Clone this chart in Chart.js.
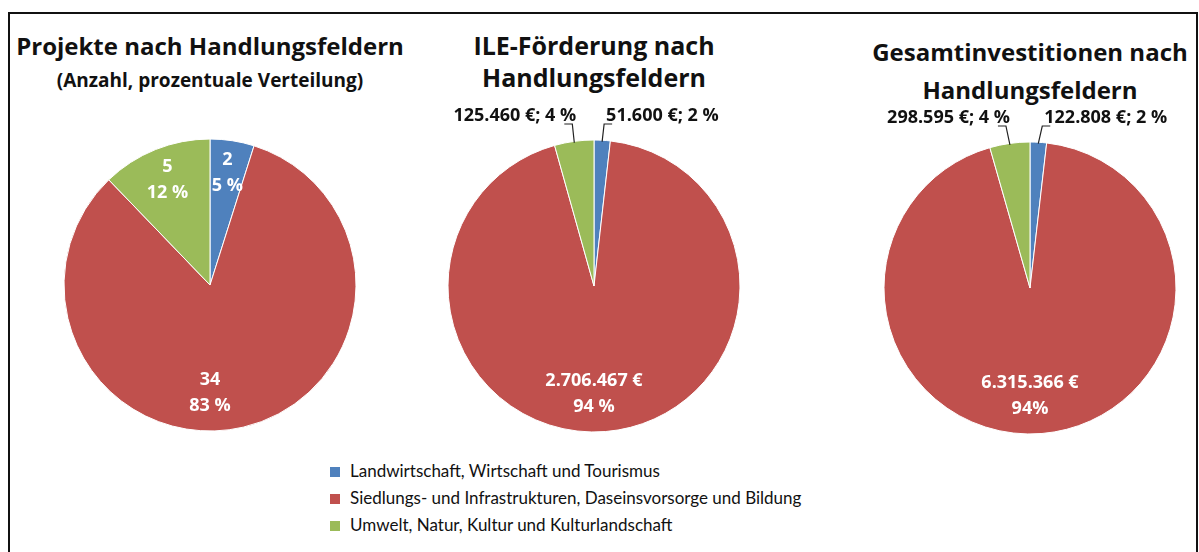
<!DOCTYPE html>
<html lang="de">
<head>
  <meta charset="UTF-8" />
  <title>Handlungsfelder</title>
  <script src="https://cdn.jsdelivr.net/npm/chart.js"></script>
  <style>
    body {
      margin: 0;
      width: 1199px;
      height: 552px;
      overflow: hidden;
      background: #fff;
      font-family: Lato, "Open Sans", sans-serif;
      color: #111;
      position: relative;
    }
    .frame {
      position: absolute;
      left: 8px;
      top: 12px;
      width: 1186px;
      height: 600px;
      border: 2px solid #111;
    }
    .title {
      position: absolute;
      font-family: "Open Sans", sans-serif;
      font-weight: bold;
      text-align: center;
      font-size: 24px;
      line-height: 32px;
      white-space: nowrap;
    }
    .sub {
      font-size: 19px;
      line-height: 28px;
    }
    canvas {
      position: absolute;
    }
    .legend {
      position: absolute;
      left: 330px;
      top: 457px;
      font-size: 17px;
      line-height: 27px;
    }
    .legend span.box {
      display: inline-block;
      width: 10px;
      height: 10px;
      margin-right: 10px;
    }
  </style>
</head>
<body>
  <div class="frame"></div>

  <div class="title" style="left:10px; width:400px; top:30px;">Projekte nach Handlungsfeldern<br><span class="sub">(Anzahl, prozentuale Verteilung)</span></div>
  <div class="title" style="left:394px; width:400px; top:29px; font-size:25px;">ILE-Förderung nach<br>Handlungsfeldern</div>
  <div class="title" style="left:830px; width:400px; top:33px; line-height:38px;">Gesamtinvestitionen nach<br>Handlungsfeldern</div>

  <canvas id="pie1" width="400" height="340" style="left:10px; top:100px;"></canvas>
  <canvas id="pie2" width="390" height="340" style="left:400px; top:100px;"></canvas>
  <canvas id="pie3" width="379" height="340" style="left:820px; top:100px;"></canvas>

  <div class="legend" id="legend"></div>

  <script>
    const categories = [
      'Landwirtschaft, Wirtschaft und Tourismus',
      'Siedlungs- und Infrastrukturen, Daseinsvorsorge und Bildung',
      'Umwelt, Natur, Kultur und Kulturlandschaft'
    ];
    const colors = ['#4f81bd', '#c0504d', '#9bbb59'];

    const projekteValues = [2, 34, 5];
    const projekteLabels = [['2', '5 %'], ['34', '83 %'], ['5', '12 %']];

    const foerderValues = [51600, 2706467, 125460];
    const foerderLabels = [['51.600 €; 2 %'], ['2.706.467 €', '94 %'], ['125.460 €; 4 %']];

    const investValues = [122808, 6315366, 298595];
    const investLabels = [['122.808 €; 2 %'], ['6.315.366 €', '94%'], ['298.595 €; 4 %']];

    // legend
    const legendEl = document.getElementById('legend');
    categories.forEach((c, i) => {
      legendEl.innerHTML += `<div><span class="box" style="background:${colors[i]}"></span>${c}</div>`;
    });

    // draws the slice labels: 'in' = inside, 'bottom' = below centre, 'out' = outside with leader line
    const sliceLabels = {
      id: 'sliceLabels',
      afterDatasetsDraw(chart, args, opts) {
        const ctx = chart.ctx;
        const arcs = chart.getDatasetMeta(0).data;
        ctx.save();
        ctx.font = 'bold 18px "Open Sans", sans-serif';
        ctx.textBaseline = 'middle';
        arcs.forEach((arc, i) => {
          const lines = opts.texts[i];
          const mode = opts.modes[i];
          const r = arc.outerRadius;
          const mid = (arc.startAngle + arc.endAngle) / 2;
          if (mode === 'out') {
            const ax = arc.x + Math.cos(mid) * r * 0.99;
            const ay = arc.y + Math.sin(mid) * r * 0.99;
            const dir = Math.cos(mid) >= 0 ? 1 : -1;
            const ex = ax + dir * opts.lean;
            const ey = arc.y - r - 16;
            const hx = ex + dir * opts.tail;
            ctx.strokeStyle = '#222';
            ctx.lineWidth = 1.2;
            ctx.beginPath();
            ctx.moveTo(ax, ay);
            ctx.lineTo(ex, ey);
            ctx.lineTo(hx, ey);
            ctx.stroke();
            ctx.fillStyle = '#111';
            ctx.textAlign = dir > 0 ? 'left' : 'right';
            ctx.fillText(lines[0], (dir > 0 ? ex : hx + 14) + dir * 2, ey - 8);
          } else {
            let x, y;
            if (mode === 'bottom') {
              x = arc.x;
              y = arc.y + r * 0.74;
            } else {
              x = arc.x + Math.cos(mid) * r * 0.78;
              y = arc.y + Math.sin(mid) * r * 0.78;
            }
            ctx.fillStyle = '#fff';
            ctx.textAlign = 'center';
            const lh = 26;
            lines.forEach((t, k) => {
              ctx.fillText(t, x, y + (k - (lines.length - 1) / 2) * lh);
            });
          }
        });
        ctx.restore();
      }
    };

    function makePie(id, values, texts, modes, padding, lean, tail) {
      return new Chart(document.getElementById(id), {
        type: 'pie',
        data: {
          labels: categories,
          datasets: [{
            data: values,
            backgroundColor: colors,
            borderColor: '#fff',
            borderWidth: 1,
            radius: 146
          }]
        },
        options: {
          responsive: false,
          animation: false,
          layout: { padding: padding },
          plugins: {
            legend: { display: false },
            tooltip: { enabled: false },
            sliceLabels: { texts: texts, modes: modes, lean: lean, tail: tail }
          }
        },
        plugins: [sliceLabels]
      });
    }

    makePie('pie1', projekteValues, projekteLabels, ['in', 'bottom', 'in'],
      { left: 54, right: 54, top: 39, bottom: 9 }, 0, 0);
    makePie('pie2', foerderValues, foerderLabels, ['out', 'bottom', 'out'],
      { left: 48, right: 50, top: 40, bottom: 8 }, 2, 8);
    makePie('pie3', investValues, investLabels, ['out', 'bottom', 'out'],
      { left: 64, right: 23, top: 42, bottom: 6 }, 4, 8);
  </script>
</body>
</html>
